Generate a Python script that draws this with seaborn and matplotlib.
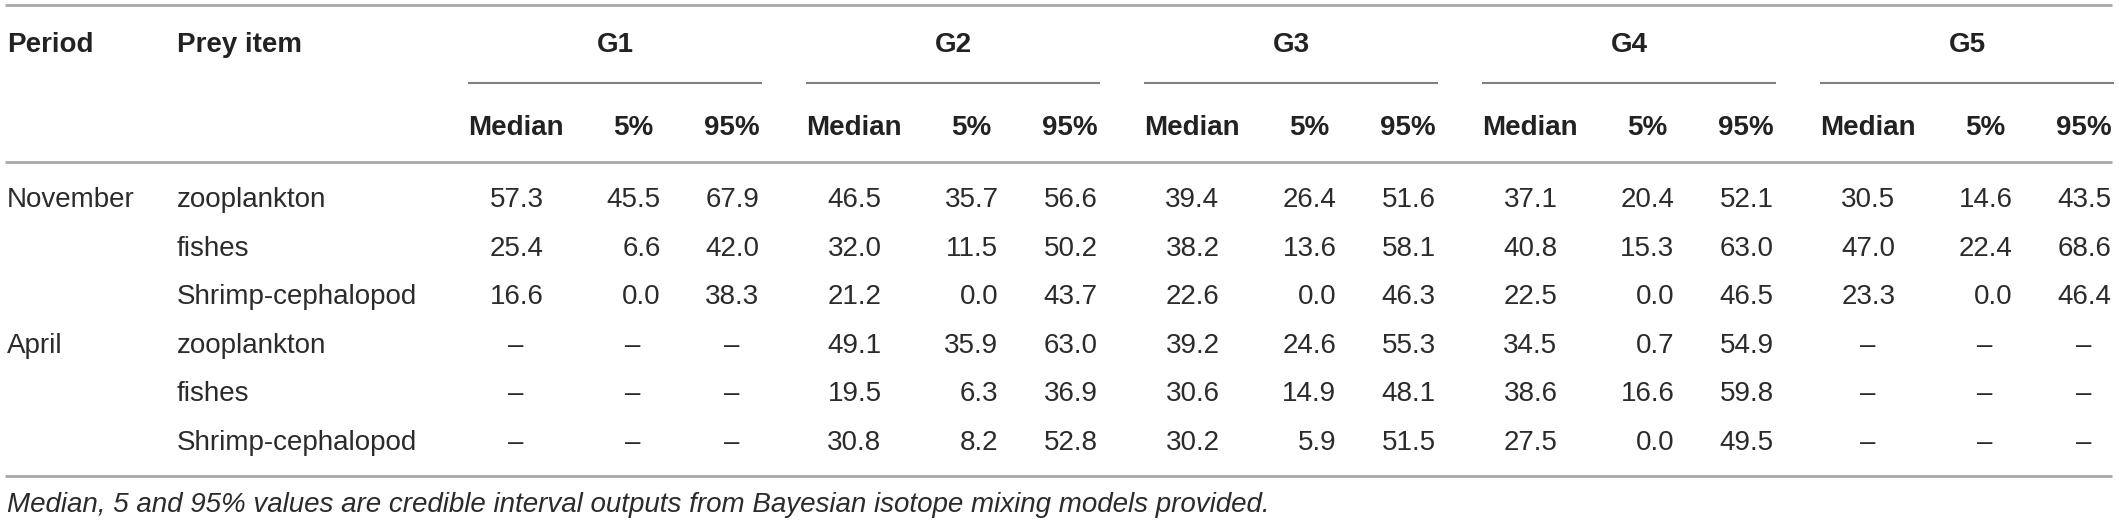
import numpy as np
import matplotlib
matplotlib.use('Agg')
import matplotlib.pyplot as plt
import seaborn as sns

# table content
periods = ['November', 'April']
prey_items = ['zooplankton', 'fishes', 'Shrimp-cephalopod']
groups = ['G1', 'G2', 'G3', 'G4', 'G5']
stats = ['Median', '5%', '95%']

# rows: Nov zoo, Nov fishes, Nov shrimp, Apr zoo, Apr fishes, Apr shrimp
g1 = [[57.3, 45.5, 67.9], [25.4, 6.6, 42.0], [16.6, 0.0, 38.3],
      [np.nan, np.nan, np.nan], [np.nan, np.nan, np.nan], [np.nan, np.nan, np.nan]]
g2 = [[46.5, 35.7, 56.6], [32.0, 11.5, 50.2], [21.2, 0.0, 43.7],
      [49.1, 35.9, 63.0], [19.5, 6.3, 36.9], [30.8, 8.2, 52.8]]
g3 = [[39.4, 26.4, 51.6], [38.2, 13.6, 58.1], [22.6, 0.0, 46.3],
      [39.2, 24.6, 55.3], [30.6, 14.9, 48.1], [30.2, 5.9, 51.5]]
g4 = [[37.1, 20.4, 52.1], [40.8, 15.3, 63.0], [22.5, 0.0, 46.5],
      [34.5, 0.7, 54.9], [38.6, 16.6, 59.8], [27.5, 0.0, 49.5]]
g5 = [[30.5, 14.6, 43.5], [47.0, 22.4, 68.6], [23.3, 0.0, 46.4],
      [np.nan, np.nan, np.nan], [np.nan, np.nan, np.nan], [np.nan, np.nan, np.nan]]

footnote = 'Median, 5 and 95% values are credible interval outputs from Bayesian isotope mixing models provided.'

#####LAYOUT (pixel units)#####
W, H = 2119, 525
x_period, x_prey = 7, 177
group_start, group_step = 516, 338
stat_offsets = [0, 117, 216]
half_num = 27.5
y_head, y_sub = 52, 135
row_base, row_step = 207, 48.6
y_lines = [5, 162, 476]
y_under = 83
y_foot = 512

sns.set_theme(style='white')
plt.rcParams['font.family'] = ['Liberation Sans', 'DejaVu Sans']

fig = plt.figure(figsize=(W/100, H/100), dpi=100)
ax = fig.add_axes([0, 0, 1, 1])
ax.set_xlim(0, W)
ax.set_ylim(H, 0)
ax.axis('off')

fs = 20
txt_col = '#2b2b2b'

#Rules
ax.hlines(y_lines, 5, 2112, color='#a8a8a8', lw=2)

#Header
ax.text(x_period, y_head, 'Period', fontsize=fs, fontweight='bold', color='#222222', va='baseline')
ax.text(x_prey, y_head, 'Prey item', fontsize=fs, fontweight='bold', color='#222222', va='baseline')

all_groups = [g1, g2, g3, g4, g5]
for gi, (gname, gvals) in enumerate(zip(groups, all_groups)):
    x0 = group_start + gi*group_step
    xs = [x0 + o for o in stat_offsets]
    x_left, x_right = x0 - 48, xs[2] + 30
    ax.text((x_left + x_right)/2, y_head, gname, fontsize=fs, fontweight='bold',
            color='#222222', ha='center', va='baseline')
    ax.hlines(y_under, x_left, x_right, color='#808080', lw=1.5)
    for sname, xc in zip(stats, xs):
        ax.text(xc, y_sub, sname, fontsize=fs, fontweight='bold', color='#222222',
                ha='center', va='baseline')
    for ri, row in enumerate(gvals):
        yb = row_base + ri*row_step
        for v, xc in zip(row, xs):
            if np.isnan(v):
                ax.text(xc, yb, '\u2013', fontsize=fs, color=txt_col, ha='center', va='baseline')
            else:
                ax.text(xc + half_num, yb, '%.1f' % v, fontsize=fs, color=txt_col,
                        ha='right', va='baseline')

#Row labels
for pi, p in enumerate(periods):
    ax.text(x_period, row_base + pi*3*row_step, p, fontsize=fs, color=txt_col, va='baseline')
    for ii, item in enumerate(prey_items):
        ax.text(x_prey, row_base + (pi*3 + ii)*row_step, item, fontsize=fs, color=txt_col, va='baseline')

ax.text(x_period, y_foot, footnote, fontsize=fs, style='italic', color=txt_col, va='baseline')

fig.savefig('out.png', dpi=100)
plt.close()
